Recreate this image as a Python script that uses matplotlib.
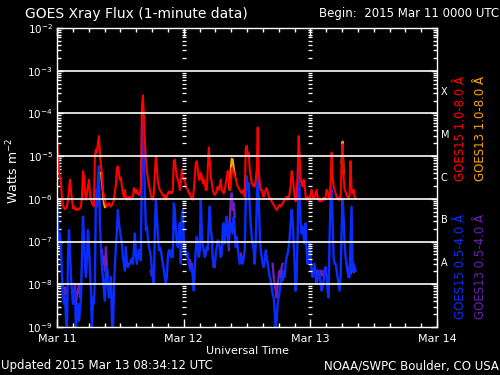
import numpy as np
import matplotlib
matplotlib.use("Agg")
import matplotlib.pyplot as plt

# ---------------- data (log10 of flux, W m^-2) ----------------
t_end_hours = 56.57          # Mar 11 00:00 -> Mar 13 08:34 UTC
n_samples = 300

goes15_long_log = [
    -4.60, -5.00, -5.31, -5.51, -5.63, -6.02, -6.14, -6.22, -6.24, -6.22,
    -6.18, -6.02, -5.79, -5.55, -5.79, -6.02, -6.22, -6.18, -6.24, -6.26,
    -6.22, -6.26, -6.24, -6.22, -6.18, -5.95, -5.35, -5.47, -5.79, -6.02,
    -5.87, -5.71, -5.55, -5.87, -6.02, -6.10, -6.14, -6.18, -5.00, -4.84,
    -4.92, -4.69, -4.53, -4.92, -5.24, -5.39, -5.79, -5.95, -6.06, -6.14,
    -6.18, -6.14, -6.10, -6.14, -6.18, -6.14, -6.10, -6.02, -5.83, -5.67,
    -5.28, -5.24, -5.39, -5.55, -5.51, -5.71, -5.87, -5.95, -5.79, -5.98,
    -6.02, -5.98, -5.95, -6.02, -5.98, -5.96, -5.95, -5.75, -5.79, -5.87,
    -5.79, -5.87, -5.91, -5.87, -5.71, -3.86, -3.58, -4.05, -4.61, -5.08,
    -5.35, -5.51, -5.67, -5.79, -5.91, -5.98, -6.02, -5.87, -5.39, -5.00,
    -5.24, -5.59,
    -5.71, -5.79, -5.83, -5.87, -5.91, -5.95, -5.91, -6.02, -5.95, -5.87,
    -5.83, -5.87, -5.83, -5.87, -5.79, -5.12, -5.08, -5.31, -5.47, -5.55,
    -5.63, -5.79, -5.63, -5.31, -5.51, -5.55, -5.51, -5.71, -5.75, -5.79,
    -5.87, -5.87, -5.95, -5.98, -6.02, -5.79, -5.47, -5.16, -5.12, -5.31,
    -5.55, -5.55, -5.39, -5.47, -5.63, -5.55, -5.63, -5.79, -5.79, -5.31,
    -4.80, -5.12, -5.47, -5.63, -5.79, -5.87, -5.91, -5.87, -5.79, -5.71,
    -5.79, -5.71, -5.55, -5.79, -5.83, -5.87, -5.79, -5.63, -5.47, -5.35,
    -5.55, -5.79, -5.71, -5.28, -5.31, -5.39, -5.47, -5.51, -5.63, -5.71,
    -5.75, -5.79, -5.83, -5.87, -5.83, -5.79, -5.95, -4.84, -4.76, -5.00,
    -4.92, -5.31, -5.47, -5.63, -5.67, -5.71, -5.71, -5.55, -5.31, -4.33,
    -5.31, -5.63, -5.79,
    -5.79, -5.91, -5.95, -5.87, -5.79, -5.75, -5.83, -5.95, -5.98, -6.02,
    -6.06, -6.10, -6.14, -6.18, -6.22, -6.26, -6.22, -6.18, -6.14, -6.18,
    -6.14, -6.10, -6.06, -6.02, -5.98, -5.95, -6.02, -5.98, -5.87, -5.71,
    -5.35, -5.47, -5.71, -5.95, -6.06, -5.95, -5.39, -4.53, -5.00, -5.55,
    -5.63, -5.71, -5.55, -5.63, -5.95, -6.02, -5.95, -5.98, -6.02, -5.87,
    -5.79, -5.95, -5.98, -5.95, -5.87, -5.79, -5.98, -6.02, -6.06, -6.02,
    -6.06, -6.02, -5.98, -6.02, -5.95, -5.79, -5.83, -5.95, -5.98, -5.63,
    -4.92, -5.47, -5.71, -5.79, -5.87, -5.95, -5.98, -6.02, -5.95, -6.02,
    -5.16, -4.72, -5.47, -5.79, -5.83, -5.91, -5.95, -5.98, -5.91, -5.12,
    -5.79, -5.87, -5.79, -5.95, -5.98,
]

goes15_short_log = [
    -6.10, -6.73, -7.05, -6.81, -7.13, -7.83, -8.15, -8.46, -8.31, -8.78,
    -9.10, -7.36, -6.73, -7.20, -7.83, -8.15, -8.46, -8.31, -8.15, -9.10,
    -8.54, -8.46, -8.86, -8.62, -8.31, -7.36, -6.42, -6.89, -7.52, -7.83,
    -7.36, -6.73, -7.13, -7.68, -8.15, -9.10, -8.31, -8.46, -7.83, -5.79,
    -6.18, -5.55, -5.24, -6.57, -7.13, -7.60, -7.83, -8.15, -8.39, -7.68,
    -7.60, -7.99, -8.31, -8.15, -7.83, -8.86, -9.10, -8.15, -7.52, -7.13,
    -6.73, -6.26, -6.57, -6.73, -6.89, -7.05, -7.36, -7.52, -7.68, -7.13,
    -7.52, -7.60, -7.52, -7.52, -7.44, -7.40, -7.52, -7.20, -6.81, -7.28,
    -7.52, -7.36, -7.20, -7.36, -7.44, -5.00, -4.17, -5.00, -5.79, -6.73,
    -6.65, -6.89, -7.13, -7.20, -7.36, -7.68, -7.83, -7.99, -6.73, -6.02,
    -6.42, -6.81,
    -7.20, -7.13, -7.20, -7.36, -7.52, -7.68, -7.83, -7.99, -7.83, -7.36,
    -7.20, -7.28, -7.36, -7.20, -7.36, -6.10, -6.26, -6.73, -6.97, -7.13,
    -6.81, -6.57, -7.52, -6.42, -6.26, -6.97, -7.20, -7.28, -7.36, -7.28,
    -7.52, -7.60, -7.68, -7.60, -7.83, -8.15, -7.60, -7.20, -6.89, -7.13,
    -7.36, -7.20, -6.02, -6.73, -7.13, -7.20, -7.36, -7.28, -7.13, -7.20,
    -6.57, -6.18, -6.73, -6.89, -7.36, -7.52, -7.60, -7.28, -7.13, -6.97,
    -7.05, -7.13, -7.36, -7.28, -6.73, -6.57, -7.05, -6.81, -6.42, -6.73,
    -7.13, -6.57, -6.73, -6.57, -6.81, -6.42, -6.73, -7.13, -6.89, -7.13,
    -7.36, -7.52, -7.44, -7.36, -7.52, -7.36, -7.20, -6.10, -5.47, -5.79,
    -5.63, -6.18, -6.57, -6.89, -7.05, -7.20, -7.52, -7.05, -6.18, -5.31,
    -6.02, -6.73, -7.20,
    -7.36, -7.52, -7.60, -7.44, -7.20, -7.36, -7.52, -7.68, -7.83, -7.91,
    -8.07, -8.23, -8.31, -8.62, -9.05, -8.86, -8.46, -8.31, -8.15, -7.99,
    -7.83, -7.91, -7.68, -7.83, -7.52, -7.36, -7.28, -7.13, -6.89, -6.57,
    -6.26, -6.50, -7.05, -7.52, -8.15, -7.83, -6.89, -5.24, -5.79, -6.57,
    -6.81, -6.65, -6.89, -7.05, -6.57, -7.20, -7.52, -7.20, -7.05, -7.36,
    -7.68, -7.83, -7.68, -7.52, -7.83, -7.99, -7.83, -7.68, -7.83, -7.99,
    -8.15, -8.07, -7.91, -7.68, -7.60, -7.83, -8.15, -8.31, -6.89, -6.02,
    -5.79, -6.57, -7.36, -7.52, -7.52, -7.68, -7.83, -7.99, -8.15, -7.83,
    -6.73, -6.02, -6.42, -7.05, -7.36, -7.52, -7.68, -7.83, -7.83, -6.97,
    -6.18, -7.68, -7.52, -7.60, -7.68,
]

# GOES-13 channels: only the stretches where they are visible (start hour, values)
goes13_long_segments = [
    (8.32, [-5.39, -5.60, -5.85, -6.10, -6.20, -6.14]),
    (32.54, [-5.60, -5.79, -5.31, -5.06, -5.08, -5.28, -5.43]),
    (53.92, [-5.16, -4.66, -5.40]),
]
goes13_short_segments = [
    (1.14, [-8.15, -8.31, -8.07, -8.23, -8.15]),
    (3.03, [-8.15, -8.31, -7.99, -8.46, -8.23, -8.15, -7.99, -8.31, -8.15]),
    (8.51, [-7.20, -7.52, -7.36, -7.68, -7.13, -7.60, -7.83]),
    (17.78, [-7.68, -7.80, -7.72]),
    (25.16, [-7.44, -7.60, -7.52, -7.68]),
    (29.52, [-7.36, -7.60, -7.44]),
    (32.54, [-7.20, -6.57, -6.02, -5.87, -6.26, -6.10, -6.42]),
    (34.81, [-7.28, -7.48, -7.36]),
    (40.87, [-7.52, -7.83, -7.99, -8.15, -8.31, -7.99, -7.83, -7.68, -7.83, -7.60, -7.52]),
    (49.19, [-7.68, -7.83, -7.72, -7.76, -7.68, -7.80, -7.76, -7.68, -7.76]),
    (54.87, [-7.52, -7.68, -7.83, -7.60, -7.76, -7.52, -7.60, -7.72, -7.68]),
]

day_labels = ["Mar 11", "Mar 12", "Mar 13", "Mar 14"]
day_hours = [0, 24, 48, 72]
ytick_exps = [-9, -8, -7, -6, -5, -4, -3, -2]
class_labels = ["A", "B", "C", "M", "X"]
class_exps = [-7.5, -6.5, -5.5, -4.5, -3.5]

C_RED = "#ff0000"
C_ORANGE = "#ffa500"
C_BLUE = "#0a2dff"
C_PURPLE = "#6a1fb8"

# ---------------- figure ----------------
plt.rcParams["font.family"] = ["DejaVu Sans"]
fig = plt.figure(figsize=(5.0, 3.75), dpi=100, facecolor="black")
ax = fig.add_axes([57 / 500, 48 / 375, 380 / 500, 299 / 375])
ax.set_facecolor("black")

hours = np.linspace(0, t_end_hours, n_samples)
dt = hours[1] - hours[0]

def seg_xy(start, vals):
    i0 = int(round(start / dt))
    return hours[i0:i0 + len(vals)], 10.0 ** np.array(vals)

for s, v in goes13_short_segments:
    x, y = seg_xy(s, v)
    ax.plot(x, y, color=C_PURPLE, lw=1.7, zorder=2)
ax.plot(hours, 10.0 ** np.array(goes15_short_log), color=C_BLUE, lw=1.7, zorder=3)
for s, v in goes13_long_segments:
    x, y = seg_xy(s, v)
    ax.plot(x, y, color=C_ORANGE, lw=1.5, zorder=4)
ax.plot(hours, 10.0 ** np.array(goes15_long_log), color=C_RED, lw=1.5, zorder=5)

ax.set_yscale("log")
ax.set_ylim(1e-9, 1e-2)
ax.set_xlim(0, 72)

# horizontal grid lines
for e in ytick_exps[1:-1]:
    ax.axhline(10.0 ** e, color="white", lw=1.2, zorder=6)

# tick columns at the day boundaries
col_vals = []
for e in range(-9, -2):
    for m in range(2, 10):
        col_vals.append(m * 10.0 ** e)
for d in day_hours[1:3]:
    ax.plot(np.full(len(col_vals), d), col_vals, ls="none", marker="_",
            ms=3, mew=0.9, color="white", zorder=6)

for sp in ax.spines.values():
    sp.set_color("white")
    sp.set_linewidth(1.0)
    sp.set_zorder(7)

ax.set_yticks([10.0 ** e for e in ytick_exps])
ax.set_yticklabels([r"$10^{%d}$" % e for e in ytick_exps])
ax.yaxis.set_minor_locator(matplotlib.ticker.LogLocator(base=10, subs=np.arange(2, 10), numticks=20))
ax.yaxis.set_minor_formatter(matplotlib.ticker.NullFormatter())
ax.set_xticks(day_hours)
ax.set_xticklabels(day_labels)
ax.set_xticks(np.arange(0, 73, 3), minor=True)
ax.tick_params(which="both", direction="in", colors="white", top=True, right=True,
               width=1.0)
ax.tick_params(axis="x", which="major", length=6, pad=5, labelsize=8)
ax.tick_params(axis="y", which="major", length=4, pad=3, labelsize=7.5)
ax.tick_params(which="minor", length=3)

# right-side flare class letters
for lab, e in zip(class_labels, class_exps):
    ax.text(1.010, 10.0 ** e, lab, transform=ax.get_yaxis_transform(),
            color="white", fontsize=7, va="center", ha="left")

# texts
fig.text(25 / 500, 1 - 14 / 375, "GOES Xray Flux (1-minute data)", color="white",
         fontsize=10, ha="left", va="center")
fig.text(499 / 500, 1 - 14 / 375, "Begin:  2015 Mar 11 0000 UTC", color="white",
         fontsize=8.5, ha="right", va="center")
fig.text(13 / 500, 1 - 171 / 375, "Watts m$^{-2}$", color="white", fontsize=9,
         rotation=90, ha="center", va="center")
fig.text(247 / 500, 1 - 351 / 375, "Universal Time", color="white", fontsize=8,
         ha="center", va="center")
fig.text(1 / 500, 1 - 366 / 375, "Updated 2015 Mar 13 08:34:12 UTC", color="white",
         fontsize=8.5, ha="left", va="center")
fig.text(499 / 500, 1 - 366 / 375, "NOAA/SWPC Boulder, CO USA", color="white",
         fontsize=8.5, ha="right", va="center")

legend_items = [
    ("GOES15 1.0-8.0 Å", C_RED, 461, 128),
    ("GOES13 1.0-8.0 Å", C_ORANGE, 481, 128),
    ("GOES15 0.5-4.0 Å", C_BLUE, 461, 266),
    ("GOES13 0.5-4.0 Å", C_PURPLE, 481, 266),
]
for txt, col, px, py in legend_items:
    fig.text(px / 500, 1 - py / 375, txt, color=col, fontsize=8.5, rotation=90,
             ha="center", va="center")

fig.savefig("out.png", dpi=100, facecolor="black")
